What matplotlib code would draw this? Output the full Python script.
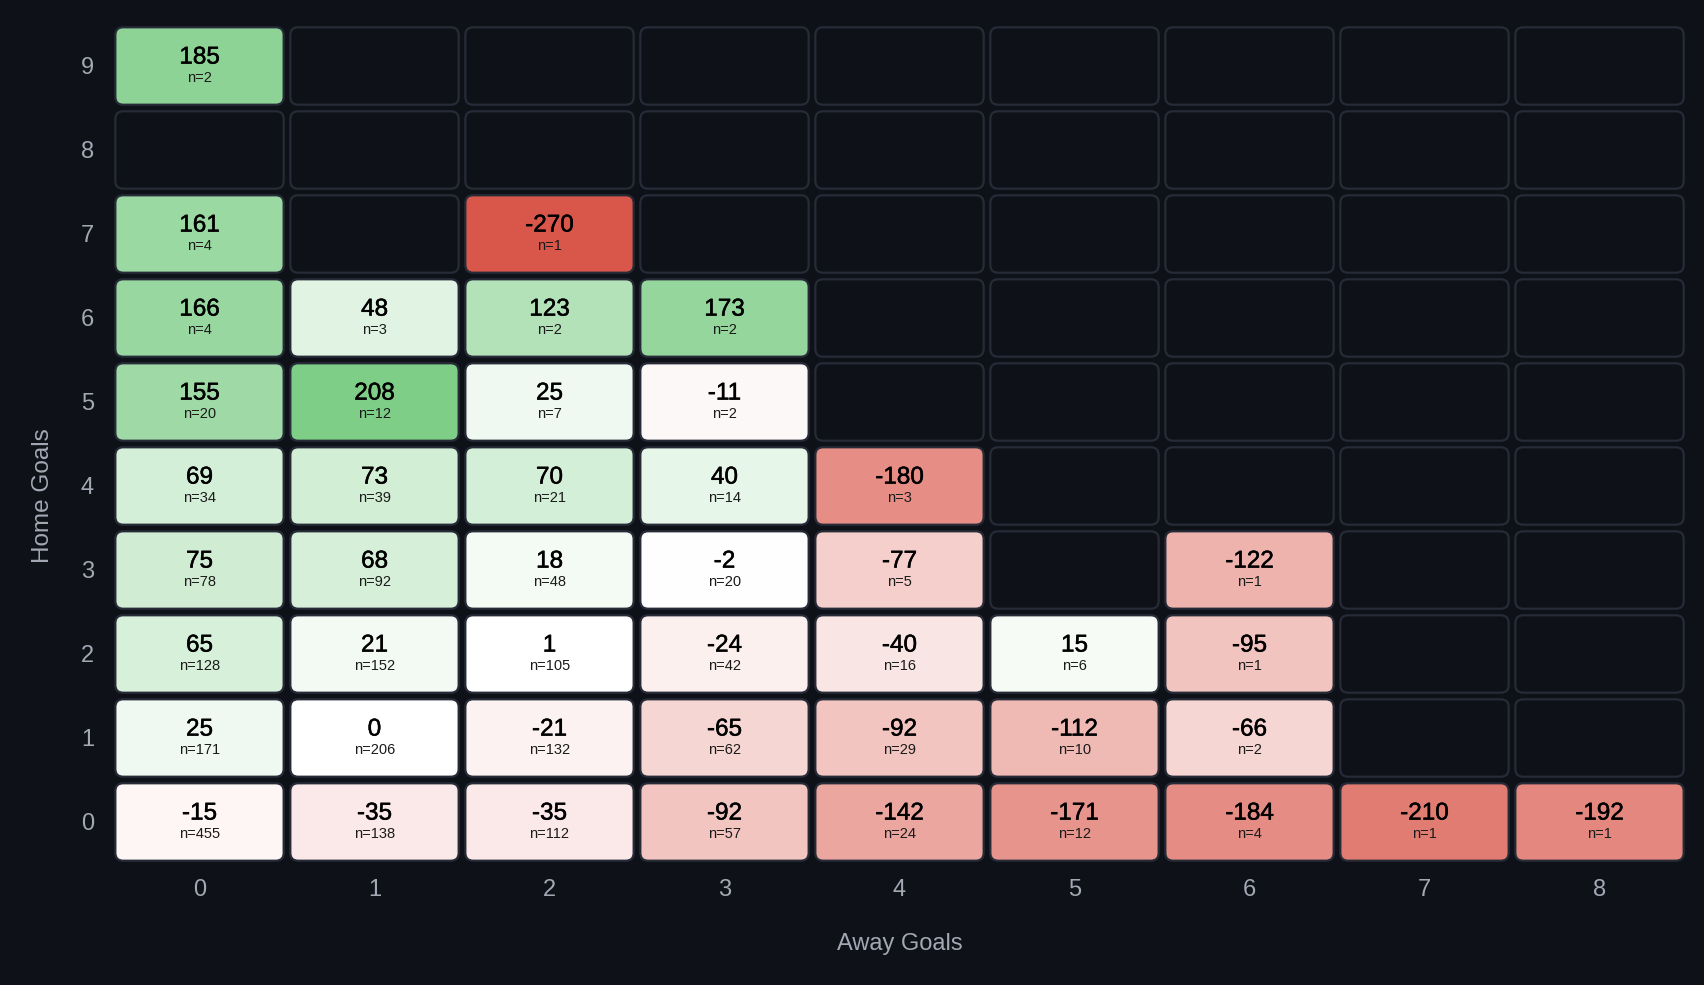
import numpy as np
import matplotlib
matplotlib.use('Agg')
import matplotlib.pyplot as plt
import matplotlib.patheffects as pe
from matplotlib.patches import FancyBboxPatch

plt.rcParams['font.family'] = ['Liberation Sans', 'DejaVu Sans']

away_goals = [0, 1, 2, 3, 4, 5, 6, 7, 8]
home_goals = [0, 1, 2, 3, 4, 5, 6, 7, 8, 9]

# valor medio por marcador (filas = goles local 0..9, columnas = goles visitante 0..8)
values = [
    [-15, -35, -35, -92, -142, -171, -184, -210, -192],
    [25, 0, -21, -65, -92, -112, -66, None, None],
    [65, 21, 1, -24, -40, 15, -95, None, None],
    [75, 68, 18, -2, -77, None, -122, None, None],
    [69, 73, 70, 40, -180, None, None, None, None],
    [155, 208, 25, -11, None, None, None, None, None],
    [166, 48, 123, 173, None, None, None, None, None],
    [161, None, -270, None, None, None, None, None, None],
    [None, None, None, None, None, None, None, None, None],
    [185, None, None, None, None, None, None, None, None],
]
counts = [
    [455, 138, 112, 57, 24, 12, 4, 1, 1],
    [171, 206, 132, 62, 29, 10, 2, None, None],
    [128, 152, 105, 42, 16, 6, 1, None, None],
    [78, 92, 48, 20, 5, None, 1, None, None],
    [34, 39, 21, 14, 3, None, None, None, None],
    [20, 12, 7, 2, None, None, None, None, None],
    [4, 3, 2, 2, None, None, None, None, None],
    [4, None, 1, None, None, None, None, None, None],
    [None, None, None, None, None, None, None, None, None],
    [2, None, None, None, None, None, None, None, None],
]

bg = '#0e1117'
border = '#272b37'
red = np.array([217, 86, 74]) / 255
green = np.array([126, 206, 136]) / 255
white = np.array([1.0, 1.0, 1.0])

flat = [v for row in values for v in row if v is not None]
vmin, vmax = min(flat), max(flat)


def cell_color(v):
    if v < 0:
        t = v / vmin
        return white + t * (red - white)
    t = v / vmax
    return white + t * (green - white)


fig = plt.figure(figsize=(17.04, 9.85), dpi=100, facecolor=bg)
ax = fig.add_axes([112 / 1704, 121 / 985, 1575 / 1704, 840 / 985])
ax.set_facecolor(bg)
ax.set_xlim(-0.5, len(away_goals) - 0.5)
ax.set_ylim(-0.5, len(home_goals) - 0.5)

w, h = 0.962, 0.922
aspect = (1575 / 9) / (840 / 10)
semibold = [pe.withStroke(linewidth=0.35, foreground='black')]
for i, hg in enumerate(home_goals):
    for j, ag in enumerate(away_goals):
        v = values[i][j]
        fc = bg if v is None else cell_color(v)
        box = FancyBboxPatch((ag - w / 2, hg - h / 2), w, h,
                             boxstyle='round,pad=0,rounding_size=0.045',
                             mutation_aspect=aspect,
                             facecolor=fc, edgecolor=border, linewidth=1.6)
        ax.add_patch(box)
        if v is not None:
            ax.text(ag, hg + 0.1, str(v), ha='center', va='center',
                    fontsize=17.5, color='black', path_effects=semibold)
            ax.text(ag, hg - 0.14, f'n={counts[i][j]}', ha='center', va='center',
                    fontsize=10.5, color='#1a1a1a')

ax.set_xticks(away_goals)
ax.set_yticks(home_goals)
ax.tick_params(length=0, colors='#a3a8b4', labelsize=17)
ax.tick_params(axis='x', pad=10.5)
ax.tick_params(axis='y', pad=13)
for s in ax.spines.values():
    s.set_visible(False)
ax.set_xlabel('Away Goals', color='#a3a8b4', fontsize=17, labelpad=23)
ax.set_ylabel('Home Goals', color='#a3a8b4', fontsize=17.5)
ax.yaxis.set_label_coords(-0.037, 0.439)

fig.savefig('out.png', dpi=100, facecolor=bg)
